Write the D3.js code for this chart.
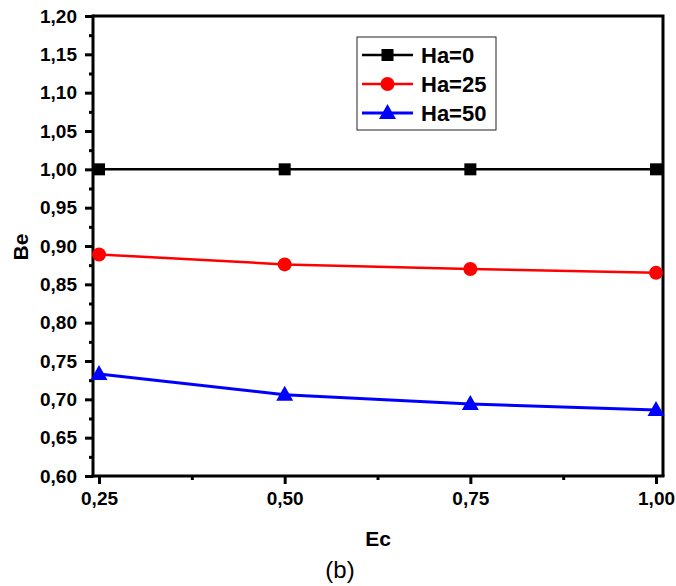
<!DOCTYPE html>
<html><head><meta charset="utf-8">
<script src="https://cdn.jsdelivr.net/npm/d3@7"></script>
<style>body{margin:0;background:#fff}svg{display:block}text{font-family:"Liberation Sans",Arial,sans-serif}</style>
</head><body><svg id="c" width="676" height="586"></svg>
<script>
const ecValues = [0.25, 0.50, 0.75, 1.00];
const ha0 = [1.000, 1.000, 1.000, 1.000];
const ha25 = [0.889, 0.876, 0.870, 0.865];
const ha50 = [0.733, 0.706, 0.694, 0.686];
const seriesNames = ["Ha=0", "Ha=25", "Ha=50"];
const seriesColors = ["#000000", "#ff0000", "#0000ff"];
const seriesShapes = ["square", "circle", "triangle"];
const xTicks = [0.25, 0.50, 0.75, 1.00];
const xMinor = [0.375, 0.625, 0.875];
const yTicks = [0.60,0.65,0.70,0.75,0.80,0.85,0.90,0.95,1.00,1.05,1.10,1.15,1.20];
const yMinor = [0.625,0.675,0.725,0.775,0.825,0.875,0.925,0.975,1.025,1.075,1.125,1.175];

const svg = d3.select("#c");
const L = 93, R = 663, T = 16, B = 476;
const x = d3.scaleLinear().domain([0.2419, 1.0094]).range([L, R]);
const y = d3.scaleLinear().domain([0.60, 1.20]).range([B, T]);
const fmt = d => d3.format(".2f")(d).replace(".", ",");

// frame top/right
svg.append("path").attr("d", `M${L},${T}H${R}V${B}`).attr("fill","none").attr("stroke","#000").attr("stroke-width",3);

// axes
const xAxis = svg.append("g").attr("transform",`translate(0,${B})`)
  .call(d3.axisBottom(x).tickValues(xTicks).tickFormat(fmt).tickSize(8).tickPadding(8));
const xMin = svg.append("g").attr("transform",`translate(0,${B})`)
  .call(d3.axisBottom(x).tickValues(xMinor).tickFormat("").tickSize(4));
const yAxis = svg.append("g").attr("transform",`translate(${L},0)`)
  .call(d3.axisLeft(y).tickValues(yTicks).tickFormat(fmt).tickSize(8).tickPadding(8));
const yMin = svg.append("g").attr("transform",`translate(${L},0)`)
  .call(d3.axisLeft(y).tickValues(yMinor).tickFormat("").tickSize(4));
[xAxis, xMin, yAxis, yMin].forEach(g => {
  g.attr("font-size", null).attr("font-family", null);
  g.select(".domain").attr("stroke-width",3).attr("stroke","#000");
  g.selectAll(".tick line").attr("stroke-width",3).attr("stroke","#000");
  g.selectAll("text").style("font-size","19px").style("font-weight","bold").attr("fill","#000")
    .style("font-family","'Liberation Sans',Arial,sans-serif");
});
xMin.select(".domain").remove(); yMin.select(".domain").remove();
xAxis.select(".domain").attr("d",`M${L-1.5},0H${R+1.5}`);
yAxis.select(".domain").attr("d",`M0,${T-1.5}V${B+1.5}`);

// data
const allSeries = [ha0, ha25, ha50];
const widths = [2.5, 2.5, 3];
const line = d3.line().x((d,i)=>x(ecValues[i])).y(d=>y(d));
function marker(g, shape, color, cx, cy) {
  if (shape === "square") g.append("rect").attr("x",cx-6).attr("y",cy-6).attr("width",12).attr("height",12).attr("fill",color);
  else if (shape === "circle") g.append("circle").attr("cx",cx).attr("cy",cy).attr("r",7).attr("fill",color);
  else g.append("path").attr("d",`M${cx},${cy-9}L${cx+8.5},${cy+6}L${cx-8.5},${cy+6}Z`).attr("fill",color);
}
allSeries.forEach((vals, k) => {
  svg.append("path").datum(vals).attr("d", line).attr("fill","none")
    .attr("stroke", seriesColors[k]).attr("stroke-width", widths[k]);
  const g = svg.append("g");
  vals.forEach((v,i) => marker(g, seriesShapes[k], seriesColors[k], x(ecValues[i]), y(v)));
});

// legend
const lg = svg.append("g");
lg.append("rect").attr("x",357).attr("y",37).attr("width",139).attr("height",93)
  .attr("fill","#fff").attr("stroke","#222").attr("stroke-width",1);
seriesNames.forEach((n,k) => {
  const cy = 55 + k*29;
  lg.append("line").attr("x1",362).attr("x2",413).attr("y1",cy).attr("y2",cy)
    .attr("stroke",seriesColors[k]).attr("stroke-width",widths[k]);
  marker(lg, seriesShapes[k], seriesColors[k], 387.5, cy);
  lg.append("text").attr("x",421).attr("y",cy+8).style("font-size","22px").style("font-weight","bold").text(n);
});

// axis titles
svg.append("text").attr("x",378).attr("y",546).attr("text-anchor","middle")
  .style("font-size","21px").style("font-weight","bold").text("Ec");
svg.append("text").attr("transform","translate(28,247) rotate(-90)").attr("text-anchor","middle")
  .style("font-size","21px").style("font-weight","bold").text("Be");
svg.append("text").attr("x",340).attr("y",578).attr("text-anchor","middle")
  .style("font-size","24px").text("(b)");
</script></body></html>
